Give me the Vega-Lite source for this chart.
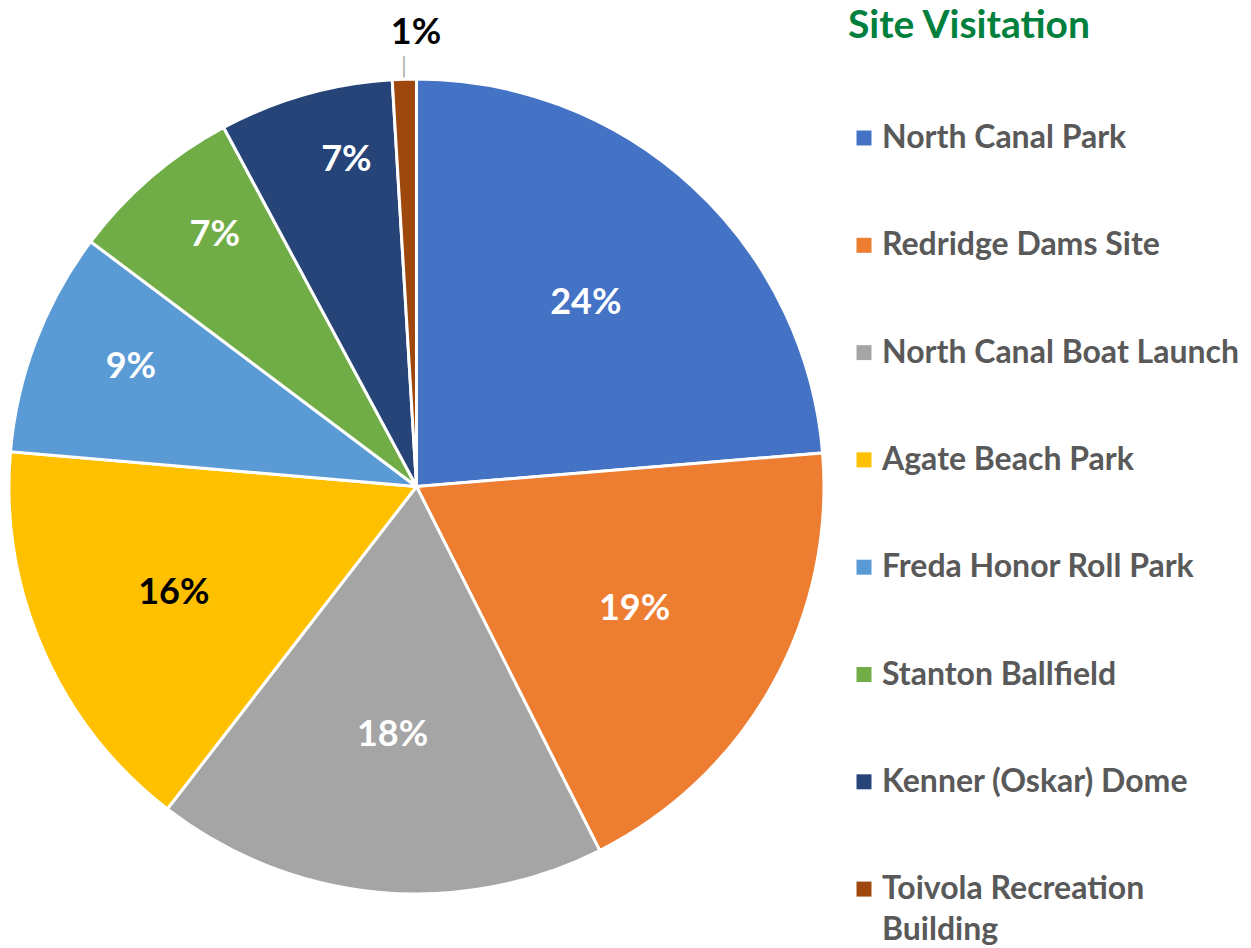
{
  "$schema": "https://vega.github.io/schema/vega-lite/v6.json",
  "autosize": "none",
  "width": 833,
  "height": 923,
  "padding": {"left": 0, "top": 25, "right": 418, "bottom": 0},
  "background": "white",
  "config": {
    "view": {"stroke": null},
    "style": {"guide-label": {"lineHeight": 41}}
  },
  "data": {
    "values": [
      {"site": "North Canal Park", "value": 23.7, "label": "24%", "order": 1},
      {"site": "Redridge Dams Site", "value": 18.9, "label": "19%", "order": 2},
      {"site": "North Canal Boat Launch", "value": 17.9, "label": "18%", "order": 3},
      {"site": "Agate Beach Park", "value": 15.9, "label": "16%", "order": 4},
      {"site": "Freda Honor Roll Park", "value": 8.9, "label": "9%", "order": 5},
      {"site": "Stanton Ballfield", "value": 6.9, "label": "7%", "order": 6},
      {"site": "Kenner (Oskar) Dome", "value": 6.9, "label": "7%", "order": 7},
      {"site": "Toivola Recreation Building", "value": 0.95, "label": "1%", "order": 8}
    ]
  },
  "encoding": {
    "theta": {"field": "value", "type": "quantitative", "stack": true},
    "order": {"field": "order", "type": "quantitative"}
  },
  "layer": [
    {
      "mark": {"type": "arc", "radius": 407.5, "stroke": "white", "strokeWidth": 3},
      "encoding": {
        "color": {
          "field": "site",
          "type": "nominal",
          "scale": {
            "domain": ["North Canal Park", "Redridge Dams Site", "North Canal Boat Launch", "Agate Beach Park", "Freda Honor Roll Park", "Stanton Ballfield", "Kenner (Oskar) Dome", "Toivola Recreation Building"],
            "range": ["#4472C4", "#ED7D31", "#A5A5A5", "#FFC000", "#5B9BD5", "#70AD47", "#264478", "#9E480E"]
          },
          "legend": {
            "orient": "none",
            "legendX": 848,
            "legendY": -18,
            "title": "Site Visitation",
            "titleFont": "Lato",
            "titleFontSize": 39,
            "titleFontWeight": "bold",
            "titleColor": "#00803C",
            "titleAnchor": "start",
            "titleLimit": 500,
            "titlePadding": 76,
            "labelFont": "Lato",
            "labelFontSize": 32,
            "labelFontWeight": "bold",
            "labelColor": "#595959",
            "labelOffset": 2,
            "labelLimit": 400,
            "symbolType": "square",
            "symbolSize": 225,
            "symbolStrokeWidth": 0,
            "symbolOpacity": 1,
            "rowPadding": 75.3,
            "labelExpr": "datum.label == 'Toivola Recreation Building' ? ['Toivola Recreation', 'Building'] : datum.label"
          }
        }
      }
    },
    {
      "mark": {"type": "text", "radius": 250, "font": "Lato", "fontWeight": "bold", "fontSize": 36, "color": "white"},
      "encoding": {
        "text": {"condition": {"test": "datum.value > 17", "field": "label", "type": "nominal"}, "value": ""}
      }
    },
    {
      "mark": {"type": "text", "radius": 265, "font": "Lato", "fontWeight": "bold", "fontSize": 36, "color": "black"},
      "encoding": {
        "text": {"condition": {"test": "datum.value > 12 && datum.value < 17", "field": "label", "type": "nominal"}, "value": ""}
      }
    },
    {
      "mark": {"type": "text", "radius": 310, "dx": 4, "dy": -9, "font": "Lato", "fontWeight": "bold", "fontSize": 36, "color": "white"},
      "encoding": {
        "text": {"condition": {"test": "datum.site == 'Freda Honor Roll Park'", "field": "label", "type": "nominal"}, "value": ""}
      }
    },
    {
      "mark": {"type": "text", "radius": 322, "dx": 8, "dy": -7, "font": "Lato", "fontWeight": "bold", "fontSize": 36, "color": "white"},
      "encoding": {
        "text": {"condition": {"test": "datum.site == 'Stanton Ballfield'", "field": "label", "type": "nominal"}, "value": ""}
      }
    },
    {
      "mark": {"type": "text", "radius": 334, "dx": 21, "dy": -5, "font": "Lato", "fontWeight": "bold", "fontSize": 36, "color": "white"},
      "encoding": {
        "text": {"condition": {"test": "datum.site == 'Kenner (Oskar) Dome'", "field": "label", "type": "nominal"}, "value": ""}
      }
    },
    {
      "mark": {"type": "text", "radius": 454, "dx": 13, "font": "Lato", "fontWeight": "bold", "fontSize": 36, "color": "black"},
      "encoding": {
        "text": {"condition": {"test": "datum.value < 2", "field": "label", "type": "nominal"}, "value": ""}
      }
    },
    {
      "mark": {"type": "text", "radius": 419, "font": "DejaVu Sans", "fontSize": 18, "color": "#A6A6A6"},
      "encoding": {
        "text": {"condition": {"test": "datum.value < 2", "value": "│"}, "value": ""}
      }
    }
  ]
}
